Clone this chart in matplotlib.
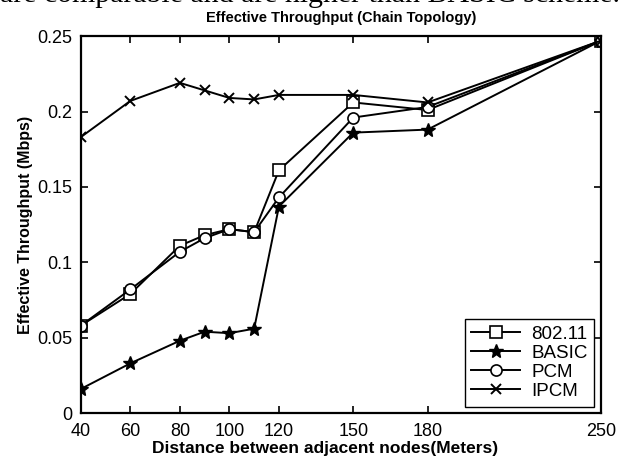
import matplotlib.pyplot as plt

distance = [40, 60, 80, 90, 100, 110, 120, 150, 180, 250]
thr_80211 = [0.058, 0.079, 0.111, 0.118, 0.122, 0.120, 0.161, 0.206, 0.201, 0.247]
thr_basic = [0.016, 0.033, 0.048, 0.054, 0.053, 0.056, 0.137, 0.186, 0.188, 0.247]
thr_pcm = [0.058, 0.082, 0.107, 0.116, 0.122, 0.120, 0.143, 0.196, 0.203, 0.247]
thr_ipcm = [0.183, 0.207, 0.219, 0.214, 0.209, 0.208, 0.211, 0.211, 0.206, 0.247]
x_ticks = [40, 60, 80, 100, 120, 150, 180, 250]
y_ticks = [0, 0.05, 0.1, 0.15, 0.2, 0.25]
y_tick_labels = ['0', '0.05', '0.1', '0.15', '0.2', '0.25']

plt.rcParams['font.family'] = ['Liberation Sans', 'DejaVu Sans']

fig = plt.figure(figsize=(6.26, 4.57), dpi=100)
ax = fig.add_axes([0.129, 0.096, 0.831, 0.825])

# clipped sentence of the surrounding page
fig.text(0.0, 0.995, 'are comparable and are higher than BASIC scheme.',
         family='Liberation Serif', fontsize=21.5, va='baseline', ha='left')

lw = 1.4
ax.plot(distance, thr_80211, 'k-', marker='s', mfc='white', ms=8, mew=1.2, lw=lw, label='802.11')
ax.plot(distance, thr_basic, 'k-', marker='*', mfc='black', ms=10, lw=lw, label='BASIC')
ax.plot(distance, thr_pcm, 'k-', marker='o', mfc='white', ms=8, mew=1.2, lw=lw, label='PCM')
ax.plot(distance, thr_ipcm, 'k-', marker='x', ms=7, mew=1.4, lw=lw, label='IPCM')

ax.set_xlim(40, 250)
ax.set_ylim(0, 0.25)
ax.set_xticks(x_ticks)
ax.set_yticks(y_ticks)
ax.set_yticklabels(y_tick_labels)
ax.tick_params(direction='in', top=True, right=True, labelsize=13, length=5, width=1.2)
ax.tick_params(axis='x', pad=7)
ax.tick_params(axis='y', pad=6)
for s in ax.spines.values():
    s.set_linewidth(1.6)

ax.set_title('Effective Throughput (Chain Topology)', fontsize=10.5, fontweight='bold', pad=10)
ax.set_xlabel('Distance between adjacent nodes(Meters)', fontsize=12.5, fontweight='bold')
ax.xaxis.set_label_coords(0.47, -0.075)
ax.set_ylabel('Effective Throughput (Mbps)', fontsize=11.5, fontweight='bold', labelpad=3)

leg = ax.legend(loc='lower right', fontsize=13.5, fancybox=False, framealpha=1,
                edgecolor='black', borderaxespad=0.35, handlelength=2.6,
                labelspacing=0.1, borderpad=0.35, handletextpad=0.6)
leg.get_frame().set_linewidth(1.0)

fig.savefig('out.png', dpi=100)
